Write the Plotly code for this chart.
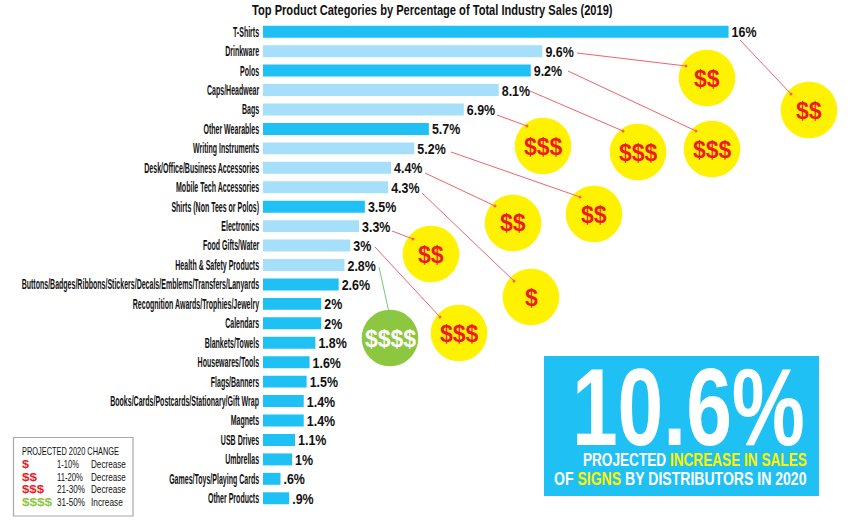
import json
import plotly.graph_objects as go

categories = ["T-Shirts", "Drinkware", "Polos", "Caps/Headwear", "Bags", "Other Wearables",
              "Writing Instruments", "Desk/Office/Business Accessories", "Mobile Tech Accessories",
              "Shirts (Non Tees or Polos)", "Electronics", "Food Gifts/Water", "Health & Safety Products",
              "Buttons/Badges/Ribbons/Stickers/Decals/Emblems/Transfers/Lanyards",
              "Recognition Awards/Trophies/Jewelry", "Calendars", "Blankets/Towels", "Housewares/Tools",
              "Flags/Banners", "Books/Cards/Postcards/Stationary/Gift Wrap", "Magnets", "USB Drives",
              "Umbrellas", "Games/Toys/Playing Cards", "Other Products"]
values = [16, 9.6, 9.2, 8.1, 6.9, 5.7, 5.2, 4.4, 4.3, 3.5, 3.3, 3, 2.8, 2.6, 2, 2, 1.8, 1.6, 1.5, 1.4, 1.4, 1.1, 1, 0.6, 0.9]
value_labels = ["16%", "9.6%", "9.2%", "8.1%", "6.9%", "5.7%", "5.2%", "4.4%", "4.3%", "3.5%", "3.3%", "3%", "2.8%",
                "2.6%", "2%", "2%", "1.8%", "1.6%", "1.5%", "1.4%", "1.4%", "1.1%", "1%", ".6%", ".9%"]
light_categories = ["Drinkware", "Caps/Headwear", "Bags", "Writing Instruments", "Desk/Office/Business Accessories",
                    "Mobile Tech Accessories", "Electronics", "Food Gifts/Water", "Health & Safety Products"]

BLUE, LIGHT, YELLOW, RED, GREEN = "#1fc1f5", "#a5dffa", "#fff200", "#ed1c24", "#8dc63f"
FONT = "Liberation Sans, Arial, sans-serif"
W, H = 850, 527
ML, MT, MB = 263, 22, 19
def px(x): return (x - ML) / (W - ML)
def py(y): return 1 - (y - MT) / (H - MT - MB)

fig = go.Figure(go.Bar(
    x=values, y=categories, orientation="h",
    marker=dict(color=[LIGHT if c in light_categories else BLUE for c in categories], line_width=0),
    text=value_labels, textposition="outside", cliponaxis=False, constraintext="none",
    textfont=dict(family=FONT, size=15, color="#111111", weight="bold"),
    hoverinfo="skip",
))

shapes, ann = [], []
squeeze = {}
def text(x, y, s, size, color="#111111", anchor="left", bold=False, width=None):
    ann.append(dict(xref="paper", yref="paper", x=px(x), y=py(y), text=f"<b>{s}</b>" if bold else s,
                    showarrow=False, xanchor=anchor, yanchor="middle", align=anchor, borderpad=0,
                    font=dict(family=FONT, size=size, color=color)))
    if width:
        squeeze[len(ann) - 1] = [width, anchor]

bubbles = [(707, 78, "$$", 0), (809, 110, "$$", 0), (543, 146, "$$$", 0), (638, 152, "$$$", 0), (712, 149, "$$$", 0),
           (594, 214, "$$", 0), (513, 223, "$$", 0), (431, 254, "$$", 0), (531, 297, "$", 0), (459, 333, "$$$", 0),
           (390, 338, "$$$$", 1)]
leaders = [(740, 40, 791, 94, 0), (577, 53, 686, 66, 0), (568, 71, 696, 131, 0), (530, 91, 623, 131, 0),
           (497, 115, 527, 126, 0), (451, 152, 580, 197, 0), (425, 173, 495, 206, 0), (422, 193, 514, 281, 0),
           (392, 231, 413, 239, 0), (375, 247, 440, 317, 0), (379, 267, 390, 317, 1)]
R = 28.3
for x, y, s, g in bubbles:
    shapes.append(dict(type="circle", xref="paper", yref="paper", x0=px(x-R), x1=px(x+R), y0=py(y-R), y1=py(y+R),
                       fillcolor=GREEN if g else YELLOW, line_width=0, layer="below"))
    text(x, y + 0.5, s, 23, "#ffffff" if g else RED, "center", True)
for x0, y0, x1, y1, g in leaders:
    c = "#74c97a" if g else "#f0636c"
    shapes.append(dict(type="line", xref="paper", yref="paper", x0=px(x0), x1=px(x1), y0=py(y0), y1=py(y1),
                       line=dict(color=c, width=1)))
    shapes.append(dict(type="circle", xref="paper", yref="paper", x0=px(x1-1.5), x1=px(x1+1.5), y0=py(y1-1.5), y1=py(y1+1.5),
                       fillcolor=c, line_width=0))

# callout panel
shapes.append(dict(type="rect", xref="paper", yref="paper", x0=px(544), x1=px(819), y0=py(356), y1=py(496),
                   fillcolor=BLUE, line_width=0))
text(806, 406, "10.6%", 110, "#ffffff", "right", True, 233)
text(808, 460, f'PROJECTED <span style="color:{YELLOW}">INCREASE IN SALES</span>', 17.5, "#ffffff", "right", True, 224)
text(808, 479, f'OF <span style="color:{YELLOW}">SIGNS</span> BY DISTRIBUTORS IN 2020', 17.5, "#ffffff", "right", True, 253)

# key box
shapes.append(dict(type="rect", xref="paper", yref="paper", x0=px(13.5), x1=px(133), y0=py(437.5), y1=py(516),
                   fillcolor="#ffffff", line=dict(color="#a8a8a8", width=1.2)))
text(21, 451, "PROJECTED 2020 CHANGE", 10.5, width=97)
key_rows = [("$", RED, "1-10%", "Decrease", 7, 22, 35), ("$$", RED, "11-20%", "Decrease", 15, 26, 35),
            ("$$$", RED, "21-30%", "Decrease", 22, 28, 35), ("$$$$", GREEN, "31-50%", "Increase", 30, 28, 32)]
for i, (sym, col, rng, kind, w0, w1, w2) in enumerate(key_rows):
    yy = 464 + i * 12.7
    text(21, yy, sym, 11, col, bold=True, width=w0)
    text(56, yy, rng, 10.5, width=w1)
    text(90, yy, kind, 10.5, width=w2)

text(432.5, 10, "Top Product Categories by Percentage of Total Industry Sales (2019)", 14, "#111111", "center", True, 361)

SCALE = 29.1
fig.update_layout(
    width=W, height=H, autosize=False, showlegend=False, plot_bgcolor="rgba(0,0,0,0)", paper_bgcolor="#ffffff",
    margin=dict(l=ML, r=0, t=MT, b=MB), bargap=0.385, shapes=shapes, annotations=ann,
    xaxis=dict(range=[0, (W-ML)/SCALE], visible=False, fixedrange=True),
    yaxis=dict(autorange=False, range=[24.5, -0.5], showline=False, showgrid=False, ticks="",
               tickfont=dict(family=FONT, size=14, color="#111111", weight="bold"), fixedrange=True,
               automargin=False, tickmode="linear", dtick=1),
)

post = """
document.body.style.margin = '0';
var sq = {SQ};
function fit(t, k, mode, dx) {
  var b = t.getBBox();
  var ax = mode === 'right' ? b.x + b.width : mode === 'center' ? b.x + b.width / 2 : b.x;
  var tr = t.getAttribute('transform') || '';
  t.setAttribute('transform', tr + ' translate(' + (ax + (dx || 0)) + ',0) scale(' + k + ',1) translate(' + (-ax) + ',0)');
}
var gd = document.querySelector('.plotly-graph-div');
var ticks = gd.querySelectorAll('.ytick text');
var kt = 0.6;
ticks.forEach(function (t) { if (t.textContent.indexOf('Books/') === 0) kt = 149 / t.getBBox().width; });
ticks.forEach(function (t) { fit(t, kt, 'right', -3); });
gd.querySelectorAll('.bartext').forEach(function (t) { fit(t, 0.83, 'left'); });
gd.querySelectorAll('.annotation').forEach(function (a) {
  var i = a.getAttribute('data-index');
  if (sq[i]) { var t = a.querySelector('text'); fit(t, sq[i][0] / t.getBBox().width, sq[i][1]); }
});
""".replace("{SQ}", json.dumps(squeeze))
fig.write_html("out.html", config={"displayModeBar": False}, post_script=post)
